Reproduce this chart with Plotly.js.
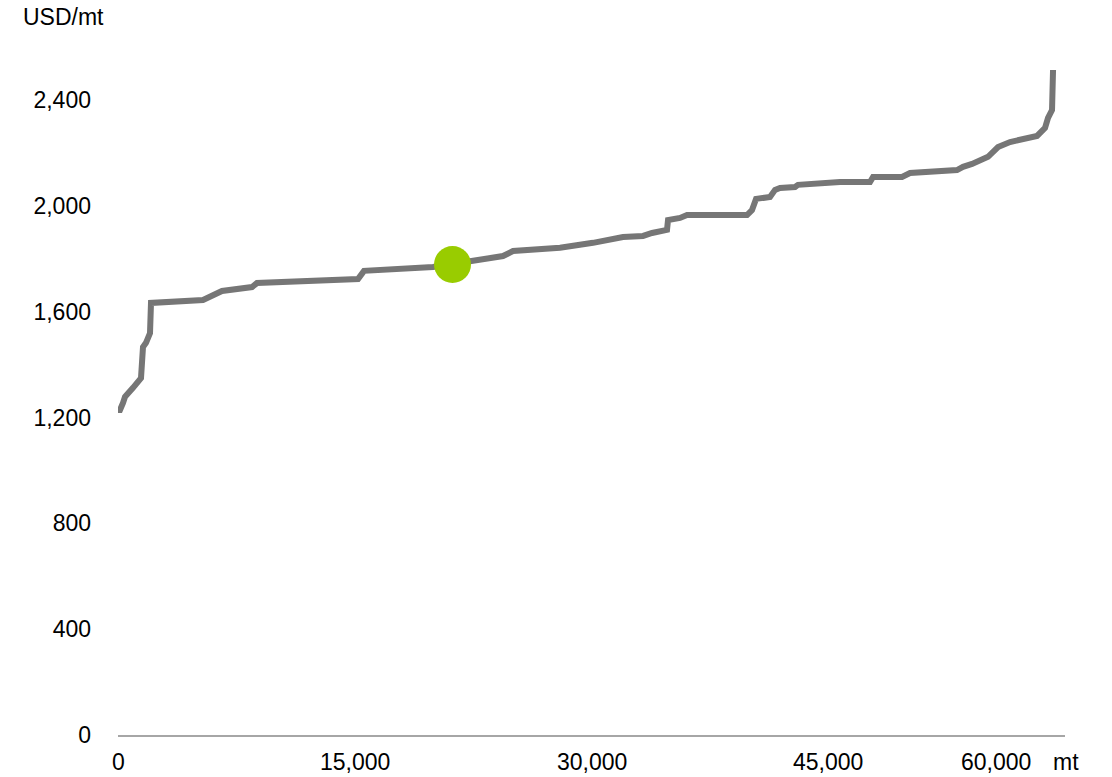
<!DOCTYPE html>
<html>
<head>
<meta charset="utf-8">
<script src="https://cdn.plot.ly/plotly-3.0.1.min.js"></script>
<style>
  html, body { margin: 0; padding: 0; background: #ffffff; }
  #chart { width: 1112px; height: 777px; }
</style>
</head>
<body>
<div id="chart"></div>
<script>
// Cumulative capacity (mt) against cost (USD/mt)
const capacityMt = [0, 127, 317, 444, 950, 1457, 1584, 1774, 2028, 2091, 5386, 6019, 6589, 8490, 8807,
  15206, 15586, 19958, 24394, 25027, 28005, 30096, 31363, 31997, 33264, 33835, 34785, 34848, 35609,
  36052, 39854, 40170, 40424, 41311, 41628, 41945, 42895, 43085, 45746, 47647, 47837, 49674, 50181,
  53159, 53539, 54110, 55123, 55757, 56517, 57278, 58228, 58735, 58925, 59178, 59242];
const costUsd = [1228, 1228, 1255, 1278, 1312, 1349, 1466, 1482, 1519, 1633, 1644, 1659, 1678, 1693, 1708,
  1723, 1754, 1769, 1810, 1829, 1841, 1860, 1875, 1882, 1886, 1897, 1909, 1946, 1954,
  1965, 1965, 1984, 2026, 2033, 2060, 2067, 2071, 2079, 2090, 2090, 2109, 2109, 2124,
  2135, 2147, 2158, 2185, 2222, 2241, 2253, 2264, 2294, 2332, 2362, 2513];

// Highlighted point on the curve
const markerMt = [21194];
const markerUsd = [1778];

// Axis tick labels
const xTickVals = [0, 15000, 30000, 45000, 60000];
const xTickText = ['0', '15,000', '30,000', '45,000', '60,000'];
const yTickVals = [0, 400, 800, 1200, 1600, 2000, 2400];
const yTickText = ['0', '400', '800', '1,200', '1,600', '2,000', '2,400'];

const FONT = 'Liberation Sans, Arial, sans-serif';
const TXT = '#000000';
const FS = 23;

const traces = [
  {
    x: capacityMt, y: costUsd, type: 'scatter', mode: 'lines',
    line: { color: '#767676', width: 6, shape: 'linear' },
    hoverinfo: 'skip', showlegend: false
  },
  {
    x: markerMt, y: markerUsd, type: 'scatter', mode: 'markers',
    marker: { color: '#99cc00', size: 37, line: { width: 0 } },
    hoverinfo: 'skip', showlegend: false, cliponaxis: false
  }
];

// x tick labels; the last one is pulled left to leave room for the unit
const annotations = xTickVals.map((v, i) => ({
  x: v, y: 0, xref: 'x', yref: 'y',
  text: xTickText[i], showarrow: false,
  xanchor: 'center', yanchor: 'middle',
  xshift: i === xTickVals.length - 1 ? -69 : 0,
  yshift: -27,
  font: { family: FONT, size: FS, color: TXT }
}));

annotations.push({
  x: 0, y: 1, xref: 'paper', yref: 'paper',
  text: 'USD/mt', showarrow: false,
  xanchor: 'left', yanchor: 'middle',
  xshift: -97, yshift: 30,
  font: { family: FONT, size: FS, color: TXT }
});

annotations.push({
  x: 1, y: 0, xref: 'paper', yref: 'paper',
  text: 'mt', showarrow: false,
  xanchor: 'left', yanchor: 'middle',
  xshift: -14, yshift: -27,
  font: { family: FONT, size: FS, color: TXT }
});

const layout = {
  width: 1112, height: 777,
  margin: { l: 118, r: 47, t: 47, b: 42 },
  paper_bgcolor: '#ffffff', plot_bgcolor: '#ffffff',
  font: { family: FONT, size: FS, color: TXT },
  xaxis: {
    range: [0, 60000], showgrid: false, zeroline: false,
    showline: true, linecolor: '#a6a6a6', linewidth: 2,
    ticks: '', showticklabels: false, fixedrange: true
  },
  yaxis: {
    range: [0, 2600], showgrid: false, zeroline: false, showline: false,
    ticks: '', tickmode: 'array', tickvals: yTickVals, ticktext: yTickText,
    ticklabelstandoff: 26,
    tickfont: { family: FONT, size: FS, color: TXT }, fixedrange: true
  },
  annotations: annotations,
  showlegend: false
};

Plotly.newPlot('chart', traces, layout, { staticPlot: true, displayModeBar: false });
</script>
</body>
</html>
